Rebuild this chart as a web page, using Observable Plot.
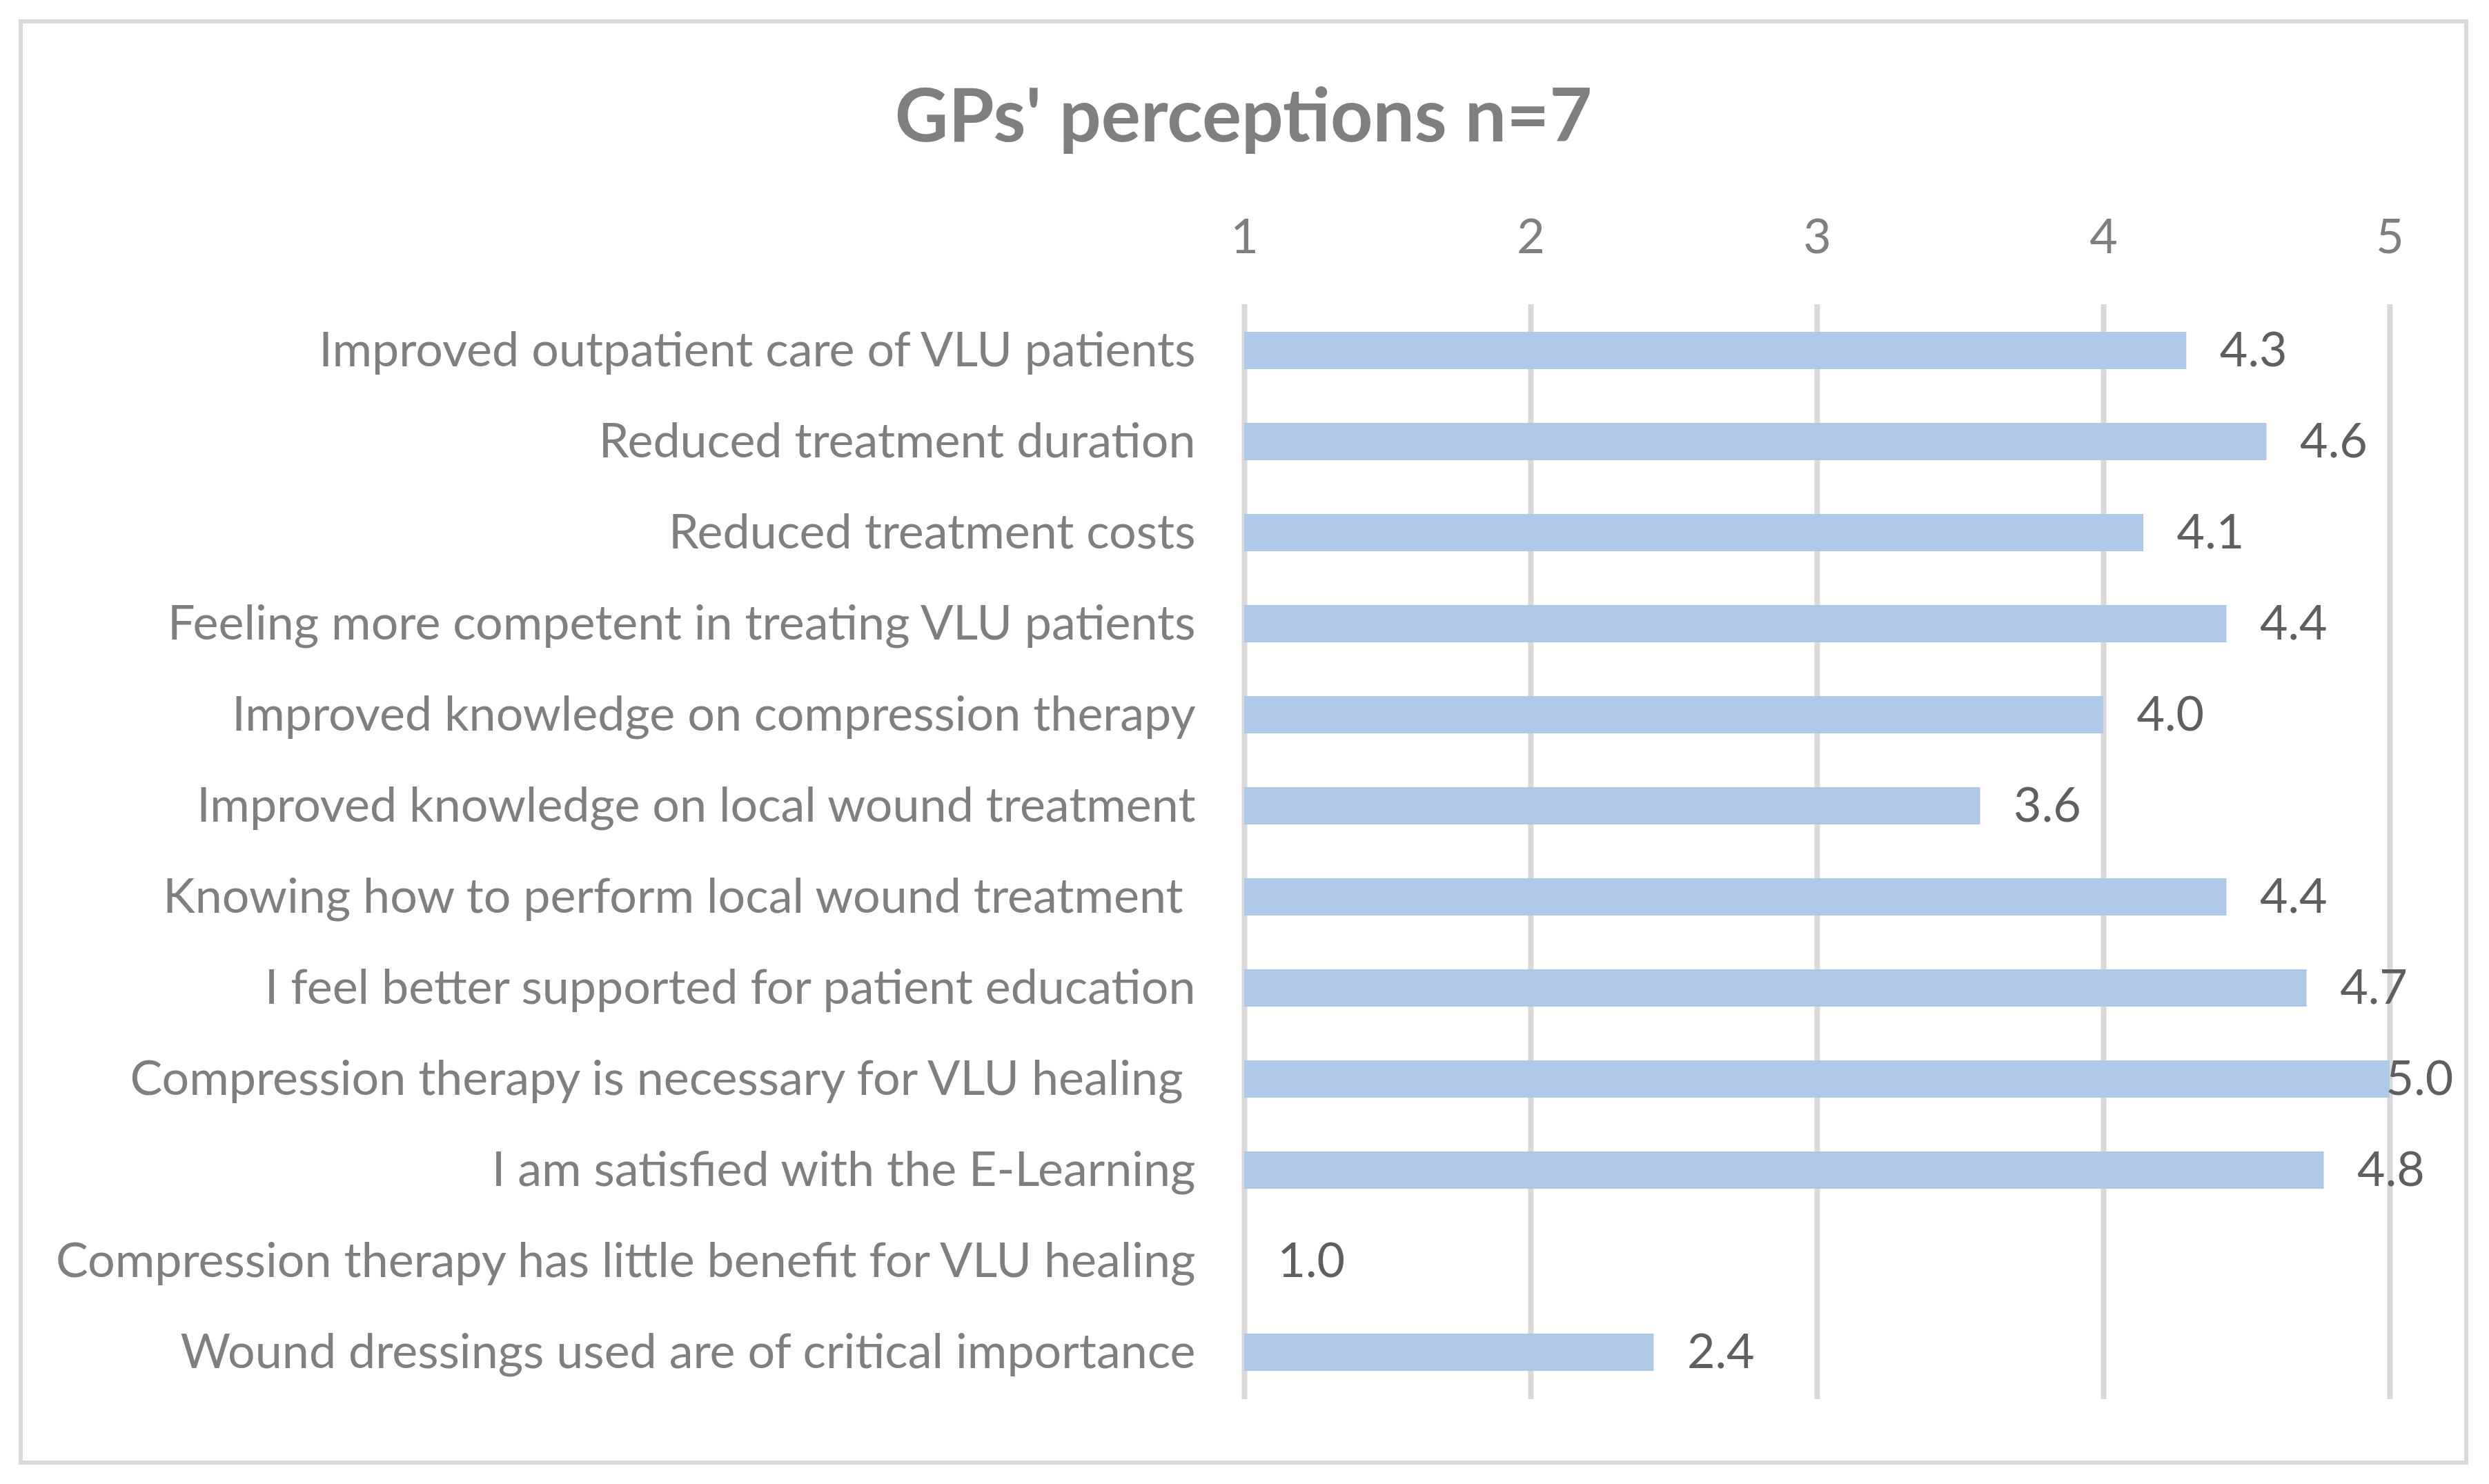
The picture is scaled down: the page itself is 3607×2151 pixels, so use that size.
<!DOCTYPE html>
<html>
<head>
<meta charset="utf-8">
<script src="https://cdn.jsdelivr.net/npm/d3@7"></script>
<script src="https://cdn.jsdelivr.net/npm/@observablehq/plot@0.6"></script>
<style>
  html, body { margin: 0; padding: 0; background: #ffffff; }
  body { width: 3607px; height: 2151px; position: relative; overflow: hidden; }
  #frame { position: absolute; left: 27px; top: 28px; width: 3550px; height: 2095px; border: 6px solid #d9d9d9; box-sizing: border-box; }
  #title { position: absolute; left: 27px; width: 3550px; top: 110px; text-align: center; font-family: Lato, "Open Sans", sans-serif; font-weight: bold; font-size: 107px; line-height: 1; color: #7f7f7f; }
  #chart { position: absolute; left: 0; top: 260px; }
  #chart svg text { white-space: pre; }
</style>
</head>
<body>
<div id="frame"></div>
<div id="title">GPs' perceptions n=7</div>
<div id="chart"></div>
<script>
const categories = [
  "Improved outpatient care of VLU patients",
  "Reduced treatment duration",
  "Reduced treatment costs",
  "Feeling more competent in treating VLU patients",
  "Improved knowledge on compression therapy",
  "Improved knowledge on local wound treatment",
  "Knowing how to perform local wound treatment ",
  "I feel better supported for patient education",
  "Compression therapy is necessary for VLU healing ",
  "I am satisfied with the E-Learning",
  "Compression therapy has little benefit for VLU healing",
  "Wound dressings used are of critical importance"
];
const values = [4.29, 4.57, 4.14, 4.43, 4.0, 3.57, 4.43, 4.71, 5.0, 4.77, 1.0, 2.43];
const xTicks = [1, 2, 3, 4, 5];
const xTickLabels = ["1", "2", "3", "4", "5"];
const labelMax = 4.87;

const data = categories.map((c, i) => ({category: c, value: values[i]}));

const chart = Plot.plot({
  width: 3607,
  height: 1828,
  marginLeft: 1803,
  marginRight: 144,
  marginTop: 181,
  marginBottom: 60,
  style: {fontFamily: "Lato, 'Open Sans', sans-serif", fontSize: "70px", color: "#7f7f7f", background: "transparent"},
  x: {domain: [1, 5], ticks: xTicks, tickFormat: (d, i) => xTickLabels[i], axis: "top", tickSize: 0, tickPadding: 75, label: null},
  y: {domain: categories, paddingInner: 0.59, paddingOuter: 0.295, tickSize: 0, tickPadding: 71, label: null},
  marks: [
    Plot.gridX(xTicks, {stroke: "#d9d9d9", strokeOpacity: 1, strokeWidth: 8}),
    Plot.barX(data, {y: "category", x1: 1, x2: "value", fill: "#aec8e8"}),
    Plot.text(data, {
      x: d => Math.min(d.value, labelMax),
      y: "category",
      text: d => d.value.toFixed(1),
      dx: 48,
      textAnchor: "start",
      fill: "#5f5f5f",
      fontSize: 70
    })
  ]
});
document.getElementById("chart").appendChild(chart);
</script>
</body>
</html>
